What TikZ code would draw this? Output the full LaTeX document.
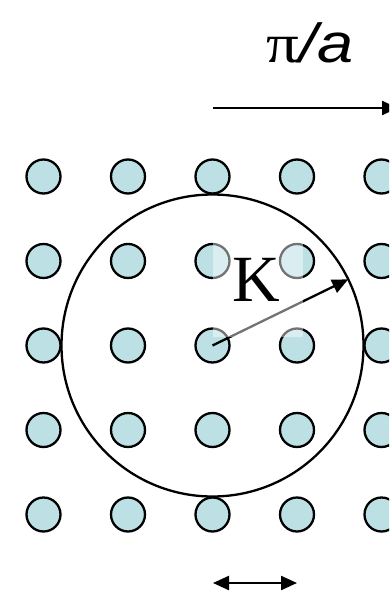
\documentclass[tikz,border=0pt]{standalone}
\usepackage{fontspec}
\newfontfamily\serifTNR{Liberation Serif}
\newfontfamily\sansAR{Liberation Sans}
\usetikzlibrary{arrows.meta}
\definecolor{dotfill}{RGB}{188,224,228}
\tikzset{
  dot/.style={circle,draw=black,fill=dotfill,line width=2.3pt,minimum size=34pt,inner sep=0pt,outer sep=0pt},
  bigring/.style={circle,draw=black,line width=2.3pt,minimum size=302pt,inner sep=0pt,outer sep=0pt},
  tipA/.tip={Triangle[length=16pt,width=14pt]},
  conn/.style={line width=2.3pt,-tipA},
  dconn/.style={line width=2.3pt,tipA-tipA},
  veil/.style={fill=white,opacity=0.45},
}
\begin{document}
\begin{tikzpicture}[x=1pt,y=-1pt]
\useasboundingbox (0,0) rectangle (389,594);
\clip (0,0) rectangle (389,594);
\foreach \i in {0,...,4}
  \foreach \j in {0,...,4}
    \node[dot] (d\i\j) at ({43.5+84.5*\i},{176.5+84.5*\j}) {};
\node[bigring] (bz) at (d22.center) {};
\draw[conn] (d22.center) -- (bz.26.4);
\fill[veil] (213,238) rectangle (303,337);
\node[inner sep=0pt,font=\serifTNR\fontsize{66}{66}\selectfont] (K) at (256.5,280) {K};
\coordinate (ta) at (213,108);
\coordinate (tb) at (398,108);
\draw[conn] (ta) -- (tb);
\node[inner sep=0pt,xscale=1.18,font=\fontsize{55}{55}\selectfont] (lab) at (310,43) {{\serifTNR π}{\sansAR\itshape /a}};
\coordinate (ba) at (213,583);
\coordinate (bb) at (297,583);
\draw[dconn] (ba) -- (bb);
\end{tikzpicture}
\end{document}
